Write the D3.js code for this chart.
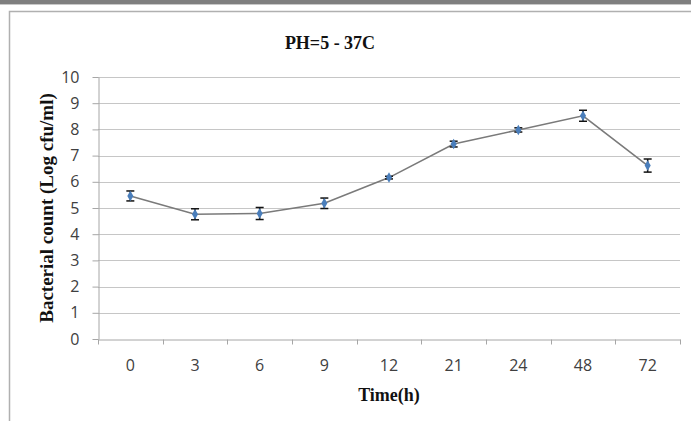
<!DOCTYPE html>
<html><head><meta charset="utf-8">
<script src="https://cdn.jsdelivr.net/npm/d3@7"></script>
<style>body{margin:0;background:#fff}svg{display:block}</style>
</head><body>
<script>
const categories = ["0","3","6","9","12","21","24","48","72"];
const values = [5.46, 4.76, 4.79, 5.18, 6.16, 7.44, 7.98, 8.52, 6.62];
const errors = [0.19, 0.21, 0.23, 0.20, 0.05, 0.11, 0.08, 0.21, 0.25];
const yTicks = [0,1,2,3,4,5,6,7,8,9,10];
const title = "PH=5 - 37C";
const xTitle = "Time(h)";
const yTitle = "Bacterial count (Log cfu/ml)";

(function(){
const W = 691, H = 421;
const svg = d3.select("body").append("svg").attr("width", W).attr("height", H);

// top band and chart frame
svg.append("rect").attr("x",0).attr("y",0).attr("width",W).attr("height",4).attr("fill","#7f7f7f");
svg.append("rect").attr("x",0).attr("y",4).attr("width",W).attr("height",1).attr("fill","#c8c8c8");
svg.append("path").attr("d",`M9.5,${H} V11.5 H${W}`).attr("fill","none").attr("stroke","#b0b0b0").attr("stroke-width",1.5);

const pl = 98, pr = 680, pt = 77, pb = 339;
const x = d3.scaleBand().domain(categories).range([pl, pr]);
const y = d3.scaleLinear().domain([0,10]).range([pb, pt]);

// gridlines
svg.append("g").selectAll("line").data(yTicks.filter(d=>d>0)).join("line")
  .attr("x1",pl).attr("x2",pr).attr("y1",d=>Math.round(y(d))+0.5).attr("y2",d=>Math.round(y(d))+0.5)
  .attr("stroke","#c6c6c6").attr("stroke-width",1);

// y axis
const yAxis = svg.append("g").attr("transform",`translate(${pl+0.5},0)`)
  .call(d3.axisLeft(y).tickValues(yTicks).tickSize(6).tickPadding(13).tickSizeOuter(0));
yAxis.select(".domain").attr("stroke","#a6a6a6");
yAxis.selectAll(".tick line").attr("stroke","#a6a6a6");
yAxis.selectAll("text").attr("font-family","Open Sans").attr("font-size",16).attr("fill","#404040");

// x axis
const xAxis = svg.append("g").attr("transform",`translate(0,${Math.round(pb)+0.5})`)
  .call(d3.axisBottom(x).tickSize(0).tickPadding(20));
xAxis.select(".domain").attr("stroke","#a6a6a6");
xAxis.selectAll("text").attr("font-family","Open Sans").attr("font-size",16).attr("fill","#404040");
const bounds = categories.map(c => x(c)).concat([pr]);
xAxis.append("g").selectAll("line").data(bounds).join("line")
  .attr("x1",d=>Math.round(d)+0.5).attr("x2",d=>Math.round(d)+0.5).attr("y1",0).attr("y2",5)
  .attr("stroke","#a6a6a6");

const cx = c => x(c) + x.bandwidth()/2;

// line
svg.append("path").datum(values)
  .attr("d", d3.line().x((d,i)=>cx(categories[i])).y(d=>y(d)))
  .attr("fill","none").attr("stroke","#7a7a7a").attr("stroke-width",1.6);

// error bars
const eb = svg.append("g").selectAll("g").data(values).join("g");
eb.append("line").attr("x1",(d,i)=>cx(categories[i])).attr("x2",(d,i)=>cx(categories[i]))
  .attr("y1",(d,i)=>y(d+errors[i])).attr("y2",(d,i)=>y(d-errors[i])).attr("stroke","#111").attr("stroke-width",1.5);
eb.append("line").attr("x1",(d,i)=>cx(categories[i])-4).attr("x2",(d,i)=>cx(categories[i])+4)
  .attr("y1",(d,i)=>y(d+errors[i])).attr("y2",(d,i)=>y(d+errors[i])).attr("stroke","#111").attr("stroke-width",1.5);
eb.append("line").attr("x1",(d,i)=>cx(categories[i])-4).attr("x2",(d,i)=>cx(categories[i])+4)
  .attr("y1",(d,i)=>y(d-errors[i])).attr("y2",(d,i)=>y(d-errors[i])).attr("stroke","#111").attr("stroke-width",1.5);

// markers
svg.append("g").selectAll("path").data(values).join("path")
  .attr("d", d3.symbol().type(d3.symbolDiamond).size(32))
  .attr("transform",(d,i)=>`translate(${cx(categories[i])},${y(d)})`)
  .attr("fill","#4a7ebb");

// titles
svg.append("text").attr("x",330).attr("y",49).attr("text-anchor","middle")
  .attr("font-family","Liberation Serif").attr("font-weight","bold").attr("font-size",18).attr("fill","#111").text(title);
svg.append("text").attr("x",389).attr("y",401).attr("text-anchor","middle")
  .attr("font-family","Liberation Serif").attr("font-weight","bold").attr("font-size",18).attr("fill","#111").text(xTitle);
svg.append("text").attr("transform","translate(53,208) rotate(-90)").attr("text-anchor","middle")
  .attr("font-family","Liberation Serif").attr("font-weight","bold").attr("font-size",19).attr("fill","#111").text(yTitle);
})();
</script>
</body></html>
